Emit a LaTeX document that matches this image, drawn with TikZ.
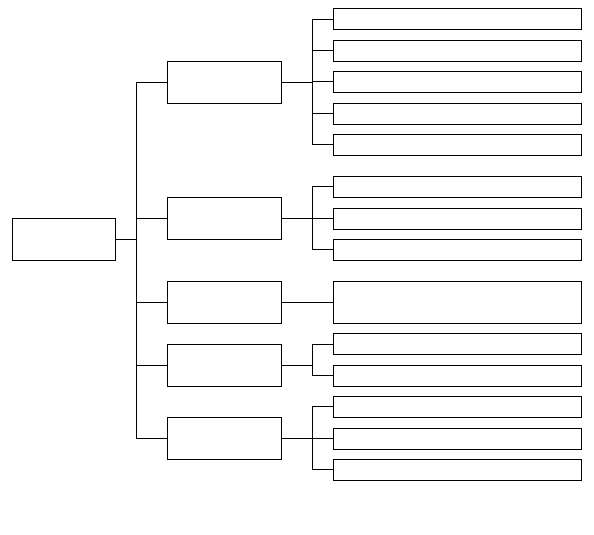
\documentclass[tikz,border=0pt]{standalone}
\begin{document}
\begin{tikzpicture}[x=1pt,y=-1pt,line width=1pt,
  box/.style={draw,rectangle,inner sep=0pt,outer sep=0pt},
  rootbox/.style={box,minimum width=103pt,minimum height=42pt},
  midbox/.style={box,minimum width=114.2pt,minimum height=42pt},
  leafbox/.style={box,minimum width=248.7pt,minimum height=20.7pt},
  tallleaf/.style={box,minimum width=248.7pt,minimum height=42pt}]
\useasboundingbox (0,0) rectangle (594,535);
% root
\node[rootbox] (root) at (63.8,239.3) {};
% middle boxes
\node[midbox] (m1) at (224.4,82.3) {};
\node[midbox] (m2) at (224.4,218.3) {};
\node[midbox] (m3) at (224.4,302.3) {};
\node[midbox] (m4) at (224.4,365.3) {};
\node[midbox] (m5) at (224.4,438.3) {};
% leaves
\node[leafbox] (l11) at (457.6,19.3) {};
\node[leafbox] (l12) at (457.6,50.8) {};
\node[leafbox] (l13) at (457.6,81.8) {};
\node[leafbox] (l14) at (457.6,113.8) {};
\node[leafbox] (l15) at (457.6,144.8) {};
\node[leafbox] (l21) at (457.6,186.7) {};
\node[leafbox] (l22) at (457.6,218.8) {};
\node[leafbox] (l23) at (457.6,249.8) {};
\node[tallleaf] (l31) at (457.6,302.3) {};
\node[leafbox] (l41) at (457.6,344.3) {};
\node[leafbox] (l42) at (457.6,375.8) {};
\node[leafbox] (l51) at (457.6,406.8) {};
\node[leafbox] (l52) at (457.6,438.8) {};
\node[leafbox] (l53) at (457.6,469.8) {};
% trunk
\coordinate (tx) at (136.7,0);
\coordinate (bx) at (312.3,0);
\draw (root.east) -- (root.east -| tx);
\draw (m1.west) -- (m1.west -| tx) -- (m5.west -| tx) -- (m5.west);
\draw (m2.west) -- (m2.west -| tx);
\draw (m3.west) -- (m3.west -| tx);
\draw (m4.west) -- (m4.west -| tx);
% group 1
\draw (m1.east) -- (m1.east -| bx);
\draw (l11.west) -- (l11.west -| bx) -- (l15.west -| bx) -- (l15.west);
\draw (l12.west) -- (l12.west -| bx);
\draw (l13.west) -- (l13.west -| bx);
\draw (l14.west) -- (l14.west -| bx);
% group 2
\draw (m2.east) -- (m2.east -| bx);
\draw (l21.west) -- (l21.west -| bx) -- (l23.west -| bx) -- (l23.west);
\draw (l22.west) -- (l22.west -| bx);
% group 3
\draw (m3.east) -- (l31.west);
% group 4
\draw (m4.east) -- (m4.east -| bx);
\draw (l41.west) -- (l41.west -| bx) -- (l42.west -| bx) -- (l42.west);
% group 5
\draw (m5.east) -- (m5.east -| bx);
\draw (l51.west) -- (l51.west -| bx) -- (l53.west -| bx) -- (l53.west);
\draw (l52.west) -- (l52.west -| bx);
\end{tikzpicture}
\end{document}
